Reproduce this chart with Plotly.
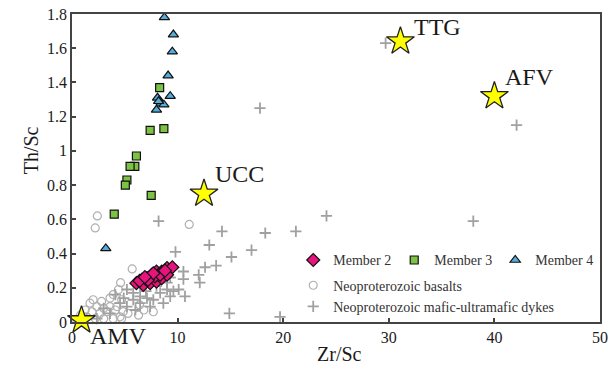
import plotly.graph_objects as go

# ---------------- data ----------------
m2_x = [6.1, 6.6, 7.1, 7.55, 8.0, 8.5, 9.0, 9.5, 6.75, 7.4, 8.0, 8.5, 9.0, 7.85, 8.35, 7.2, 6.4, 7.7, 8.8, 6.9]
m2_y = [0.227, 0.246, 0.256, 0.276, 0.295, 0.295, 0.315, 0.32, 0.217, 0.227, 0.236, 0.256, 0.276, 0.266, 0.276, 0.246, 0.24, 0.285, 0.3, 0.262]

m3_x = [8.3, 7.4, 8.7, 6.1, 5.95, 5.5, 5.2, 5.05, 7.5, 4.0]
m3_y = [1.37, 1.12, 1.13, 0.97, 0.91, 0.91, 0.83, 0.80, 0.74, 0.63]

m4_x = [8.75, 9.6, 9.5, 9.1, 9.3, 8.1, 8.45, 8.0, 8.7, 8.2, 3.2]
m4_y = [1.78, 1.68, 1.58, 1.44, 1.32, 1.31, 1.28, 1.24, 1.27, 1.29, 0.43]

bas_x = [2.4, 2.2, 5.7, 11.1, 4.6, 4.4, 1.7, 2.35, 3.0, 3.6, 4.25, 1.25, 1.9, 2.65, 3.3, 4.1, 4.85,
         4.55, 0.8, 1.4, 2.2, 3.0, 3.9, 4.7, 0.45, 6.8, 7.7, 3.9, 3.6, 6.4, 4.7, 6.3, 2.0, 2.8, 5.3]
bas_y = [0.62, 0.55, 0.31, 0.57, 0.23, 0.19, 0.11, 0.09, 0.08, 0.09, 0.09, 0.07, 0.06, 0.05, 0.06, 0.07, 0.06,
         0.03, 0.04, 0.03, 0.02, 0.02, 0.02, 0.02, 0.01, 0.07, 0.06, 0.16, 0.14, 0.10, 0.13, 0.04, 0.13, 0.12, 0.05]

dyk_x = [29.7, 42.1, 17.8, 38.0, 24.1, 8.2, 14.2, 18.3, 21.2, 13.0, 17.0, 9.8, 15.1, 12.6, 13.65,
         10.55, 12.0, 12.1, 10.55, 10.7, 14.9, 19.7, 10.1, 9.6, 5.2, 5.8, 6.45, 7.1, 7.7, 8.35,
         9.0, 9.3, 8.65, 7.4, 6.45, 5.8, 5.2, 4.55, 4.1, 6.45, 8.0, 9.0, 1.4, 3.6, 2.35, 9.3, 7.0, 6.0, 4.9, 3.0]
dyk_y = [1.63, 1.15, 1.25, 0.59, 0.62, 0.59, 0.53, 0.52, 0.53, 0.45, 0.42, 0.41, 0.38, 0.32, 0.33,
         0.295, 0.275, 0.23, 0.25, 0.15, 0.05, 0.03, 0.19, 0.18, 0.19, 0.17, 0.15, 0.14, 0.13, 0.17,
         0.19, 0.15, 0.11, 0.09, 0.11, 0.13, 0.09, 0.11, 0.16, 0.21, 0.21, 0.23, 0.02, 0.05, 0.02, 0.26, 0.18, 0.07, 0.14, 0.08]

ref_names = ["TTG", "AFV", "UCC", "AMV"]
ref_x = [31.1, 40.0, 12.5, 0.9]
ref_y = [1.64, 1.32, 0.75, 0.01]

x_ticks = [0, 10, 20, 30, 40, 50]
y_ticks = [0, 0.2, 0.4, 0.6, 0.8, 1.0, 1.2, 1.4, 1.6, 1.8]
y_tick_text = ["0", "0.2", "0.4", "0.6", "0.8", "1", "1.2", "1.4", "1.6", "1.8"]

SERIF = "Liberation Serif"

fig = go.Figure()

fig.add_trace(go.Scatter(x=bas_x, y=bas_y, mode="markers", name="Neoproterozoic basalts",
                         marker=dict(symbol="circle-open", size=8, color="#b0b0b0", line=dict(width=1.2)),
                         legend="legend2", legendgroup="b", cliponaxis=False))
fig.add_trace(go.Scatter(x=dyk_x, y=dyk_y, mode="markers", name="Neoproterozoic mafic-ultramafic dykes",
                         marker=dict(symbol="cross-thin", size=8, color="#a0a0a0",
                                     line=dict(width=1.8, color="#a0a0a0")),
                         legend="legend2", legendgroup="d", cliponaxis=False))
fig.add_trace(go.Scatter(x=m2_x, y=m2_y, mode="markers", name="Member 2",
                         marker=dict(symbol="diamond", size=10, color="#e8137c", line=dict(width=1.2, color="#111")),
                         legend="legend"))
fig.add_trace(go.Scatter(x=m3_x, y=m3_y, mode="markers", name="Member 3",
                         marker=dict(symbol="square", size=8, color="#7cc343", line=dict(width=1.2, color="#111")),
                         legend="legend"))
fig.add_trace(go.Scatter(x=m4_x, y=m4_y, mode="markers", name="Member 4",
                         marker=dict(symbol="triangle-up", size=9, color="#55acdc", line=dict(width=1.2, color="#111")),
                         legend="legend"))
fig.add_trace(go.Scatter(x=ref_x, y=ref_y, mode="markers", name="ref", showlegend=False,
                         marker=dict(symbol="star", size=21, color="#ffff00", line=dict(width=1.3, color="#222")),
                         cliponaxis=False))

# star labels
offsets = {"TTG": (12, 14), "AFV": (9, 19), "UCC": (9, 20), "AMV": (6, -16)}
for n, xv, yv in zip(ref_names, ref_x, ref_y):
    dx, dy = offsets[n]
    fig.add_annotation(x=xv, y=yv, xref="x", yref="y", text=n, showarrow=False,
                       xanchor="left", yanchor="middle", xshift=dx, yshift=dy,
                       font=dict(family=SERIF, size=24, color="#1a1a1a"))

# axis titles
fig.add_annotation(x=0.506, y=-0.146, xref="paper", yref="paper", text="Zr/Sc", showarrow=False,
                   font=dict(family=SERIF, size=20, color="#1a1a1a"))
fig.add_annotation(x=-0.102, y=0.558, xref="paper", yref="paper", text="Th/Sc", showarrow=False,
                   textangle=-90, font=dict(family=SERIF, size=20, color="#1a1a1a"))

axis_common = dict(showgrid=False, zeroline=False, showline=True, linecolor="#444", linewidth=1.5,
                   mirror=True, ticks="inside", ticklen=4, tickwidth=1.5, tickcolor="#444",
                   automargin=False, ticklabeloverflow="allow",
                   tickfont=dict(family=SERIF, size=16, color="#1a1a1a"))

fig.update_layout(
    width=609, height=381, autosize=False,
    margin=dict(l=72, r=9, t=14, b=59),
    paper_bgcolor="white", plot_bgcolor="white",
    xaxis=dict(range=[0, 50], tickvals=x_ticks, **axis_common),
    yaxis=dict(range=[0, 1.8], tickvals=y_ticks, ticktext=y_tick_text, **axis_common),
    legend=dict(orientation="h", x=0.419, y=0.2, xanchor="left", yanchor="middle",
                entrywidth=56, entrywidthmode="pixels",
                bgcolor="rgba(0,0,0,0)", font=dict(family=SERIF, size=14, color="#333")),
    legend2=dict(orientation="v", x=0.419, y=0.084, xanchor="left", yanchor="middle",
                 bgcolor="rgba(0,0,0,0)", tracegroupgap=0,
                 font=dict(family=SERIF, size=14, color="#333")),
    showlegend=True,
)

fig.write_html("out.html", config={"displayModeBar": False},
               post_script="document.body.style.margin='0px';")
